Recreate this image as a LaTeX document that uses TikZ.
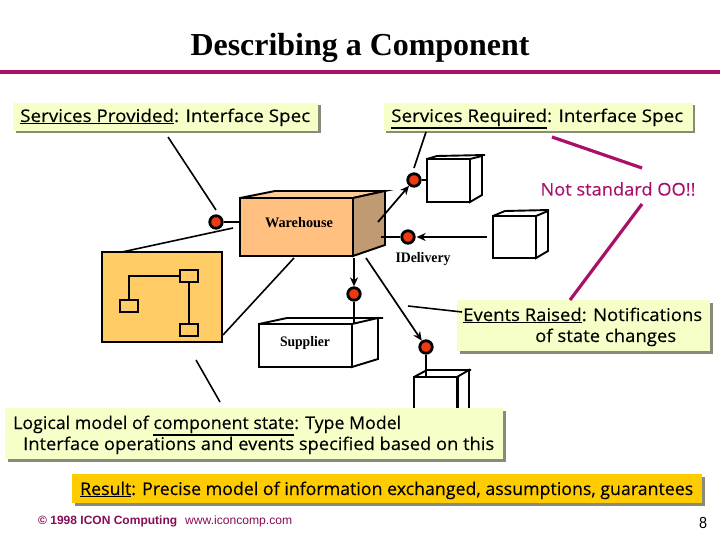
\documentclass[tikz,border=0pt]{standalone}
\usepackage{fontspec}
\usepackage{graphicx}
\usetikzlibrary{arrows.meta,shadows}
\setmainfont{Liberation Serif}
\newfontfamily\hand[FakeBold=0.25]{Open Sans}
\newfontfamily\foot{Liberation Sans}
\definecolor{magline}{HTML}{A8106A}
\definecolor{pale}{HTML}{F6FFC8}
\definecolor{gold}{HTML}{FFCC00}
\definecolor{peach}{HTML}{FFC080}
\definecolor{peachtop}{HTML}{FBCB9A}
\definecolor{tan}{HTML}{C09A70}
\definecolor{statefill}{HTML}{FFCC66}
\definecolor{dotred}{HTML}{EE3A10}
\definecolor{shade}{HTML}{8A8A78}
\newcommand{\fitw}[2]{\resizebox{#1pt}{\height}{#2}}
\newcommand{\ul}[1]{\vtop{\hbox{#1}\kern0.6pt\hrule height 1.7pt}}
\tikzset{
  x=1pt,y=-1pt,
  panel/.style={fill=pale,inner sep=0pt,drop shadow={shadow xshift=2.5pt,shadow yshift=-2.5pt,fill=shade,opacity=1}},
  handtext/.style={inner sep=0pt,anchor=base west,font=\hand\fontsize{17.5}{20}\selectfont},
  port/.style={circle,draw=black,line width=2.8pt,fill=dotred,minimum size=12.5pt,inner sep=0pt},
  plug/.style={line width=2.8pt},
  lead/.style={line width=1.6pt},
  flow/.style={line width=1.7pt,-{Stealth[length=9pt,width=8pt]}},
  note/.style={line width=3.2pt,magline},
  cube/.style={line width=1.9pt,draw=black,fill=white},
  front/.style={cube,inner sep=0pt},
  boxname/.style={inner sep=0pt,font=\fontsize{14.5}{16}\selectfont\bfseries},
  small/.style={line width=1.6pt,draw=black,fill=statefill,minimum width=18pt,minimum height=12pt,inner sep=0pt},
}
\begin{document}
\begin{tikzpicture}
\useasboundingbox (0,0) rectangle (720,540);
% title
\node[inner sep=0pt,font=\bfseries\fontsize{32}{36}\selectfont] (title) at (360,47.5) {\fitw{339}{Describing a Component}};
\fill[magline] (0,70) rectangle (720,74);

% Warehouse
\coordinate (wA) at (240,198);
\coordinate (wB) at (275,191);
\coordinate (wC) at (385,191);
\coordinate (wD) at (353,198);
\coordinate (wE) at (385,245);
\coordinate (wF) at (353,256);
\draw[cube,fill=peachtop] (wA)--(wB)--(wC)--(wD)--cycle;
\draw[cube,fill=tan] (wD)--(wC)--(wE)--(wF)--cycle;
\node[front,fill=peach,minimum width=113pt,minimum height=58pt] (wh) at (296.5,227) {};
\node[boxname] (whl) at (299,223) {\fitw{68}{Warehouse}};

% ports
\node[port] (p1) at (216,222) {};
\node[port] (p2) at (414,180) {};
\node[port] (p3) at (408,237) {};
\node[port] (p4) at (354,294) {};
\node[port] (p5) at (426,347) {};

% state box
\node[draw=black,line width=1.9pt,fill=statefill,minimum width=120pt,minimum height=90pt,inner sep=0pt] (state) at (162,297) {};
\node[small] (s1) at (189,276) {};
\node[small] (s2) at (129,306) {};
\node[small] (s3) at (189,330) {};
\draw[line width=1.6pt] (s1.west) -| (s2.north);
\draw[line width=1.6pt] (s1.south) -- (s3.north);

% cube 1
\coordinate (a1) at (427,159); \coordinate (a2) at (437,156); \coordinate (a3) at (485,155);
\coordinate (a4) at (470,159); \coordinate (a5) at (482,156); \coordinate (a6) at (482,195); \coordinate (a7) at (470,202);
\draw[cube] (a1)--(a2)--(a3);
\draw[cube] (a4)--(a5)--(a6)--(a7)--cycle;
\node[front,minimum width=43pt,minimum height=43pt] (c1) at (448.5,180.5) {};
% cube 2
\coordinate (b1) at (493,216); \coordinate (b2) at (505,211); \coordinate (b3) at (549,210);
\coordinate (b4) at (536,216); \coordinate (b5) at (548,211); \coordinate (b6) at (548,251); \coordinate (b7) at (536,258);
\draw[cube] (b1)--(b2)--(b3);
\draw[cube] (b4)--(b5)--(b6)--(b7)--cycle;
\node[front,minimum width=43pt,minimum height=42pt] (c2) at (514.5,237) {};
% supplier
\coordinate (d1) at (259,324); \coordinate (d2) at (287,318); \coordinate (d3) at (383,318);
\coordinate (d4) at (352,324); \coordinate (d5) at (378,318); \coordinate (d6) at (378,359); \coordinate (d7) at (352,367);
\draw[cube] (d1)--(d2)--(d3);
\draw[cube] (d4)--(d5)--(d6)--(d7)--cycle;
\node[front,minimum width=93pt,minimum height=43pt] (sup) at (305.5,345.5) {};
\node[boxname] (supl) at (305,343.5) {\fitw{50}{Supplier}};
% cube 3
\coordinate (e1) at (414,377); \coordinate (e2) at (427,370); \coordinate (e3) at (471,370);
\coordinate (e4) at (457,377); \coordinate (e5) at (469,370); \coordinate (e6) at (469,420); \coordinate (e7) at (457,420);
\draw[cube] (e1)--(e2)--(e3);
\draw[cube] (e4)--(e5)--(e6)--(e7)--cycle;
\node[front,minimum width=43pt,minimum height=43pt] (c3) at (435.5,398.5) {};
\draw[line width=2.8pt] (c3.north east) -- (c3.south east);

% plugs
\draw[plug] (p1) -- (wh.west |- p1);
\draw[plug] (p2) -- (c1.west |- p2);
\coordinate (ws) at (381,237);
\draw[plug] (p3) -- (ws);
\draw[plug] (p4) -- (p4 |- sup.north);
\draw[plug] (p5) -- (p5 |- c3.north);

% flows
\coordinate (f1) at (378,222);
\draw[flow] (f1) -- (p2);
\coordinate (f2) at (487,237);
\draw[flow,shorten >=1pt] (f2) -- (p3);
\coordinate (f3) at (354,258);
\draw[flow] (f3) -- (p4);
\coordinate (f4) at (366,258);
\draw[flow] (f4) -- (p5);

% IDelivery
\node[boxname] (idl) at (423,259.5) {\fitw{55}{IDelivery}};

% panels
\node[panel,minimum width=305pt,minimum height=28pt] (pp) at (165.5,117) {};
\node[handtext] (ppt) at (20,122) {\fitw{290}{\ul{Services Provided}: Interface Spec}};
\node[panel,minimum width=309pt,minimum height=28pt] (pr) at (538,117) {};
\node[handtext] (prt) at (391,122) {\fitw{292}{\ul{Services Required}: Interface Spec}};
\node[panel,minimum width=253pt,minimum height=51pt] (pe) at (583.5,325.5) {};
\node[handtext] (pe1) at (463,321) {\fitw{239}{\ul{Events Raised}: Notifications}};
\node[handtext] (pe2) at (535,342) {\fitw{141}{of state changes}};
\node[panel,minimum width=498pt,minimum height=51pt] (pm) at (254,433.5) {};
\node[handtext] (pm1) at (13,429) {\fitw{388}{Logical model of \ul{component state}: Type Model}};
\node[handtext] (pm2) at (23,450) {\fitw{471}{Interface operations and events specified based on this}};
\node[panel,fill=gold,minimum width=630pt,minimum height=29pt] (pres) at (387,488.5) {};
\node[handtext] (prest) at (80,495) {\fitw{613}{\ul{Result}: Precise model of information exchanged, assumptions, guarantees}};

% leads
\coordinate (l1) at (168,137); \coordinate (l1e) at (216,210);
\draw[lead] (l1) -- (l1e);
\coordinate (l2) at (426,132); \coordinate (l2e) at (414,168);
\draw[lead] (l2) -- (l2e);
\coordinate (l3) at (233,228); \coordinate (l3e) at (122,252);
\draw[lead] (l3) -- (l3e);
\coordinate (l4) at (294,258); \coordinate (l4e) at (223,335);
\draw[lead] (l4) -- (l4e);
\coordinate (l5) at (196,360); \coordinate (l5e) at (220,402);
\draw[lead] (l5) -- (l5e);
\coordinate (l6) at (408,306); \coordinate (l6e) at (462,312);
\draw[lead] (l6) -- (l6e);

% Not standard
\node[inner sep=0pt,text=magline,font=\hand\fontsize{17.5}{20}\selectfont] (ns) at (618,189) {\fitw{155}{Not standard OO!!}};
\coordinate (n1) at (552,137); \coordinate (n2) at (642,168);
\coordinate (n3) at (642,204); \coordinate (n4) at (570,300);
\draw[note] (n1) -- (n2);
\draw[note] (n3) -- (n4);

% footer
\node[inner sep=0pt,anchor=base west,text=magline!80!black,font=\foot\bfseries\fontsize{12}{13}\selectfont] (ft1) at (38,524) {\fitw{139}{© 1998 ICON Computing}};
\node[inner sep=0pt,anchor=base west,text=magline!80!black,font=\foot\fontsize{12}{13}\selectfont] (ft2) at (185,524) {\fitw{107}{www.iconcomp.com}};
\node[inner sep=0pt,font=\foot\fontsize{16}{18}\selectfont] (pg) at (703,523) {\fitw{8}{8}};
\end{tikzpicture}
\end{document}
